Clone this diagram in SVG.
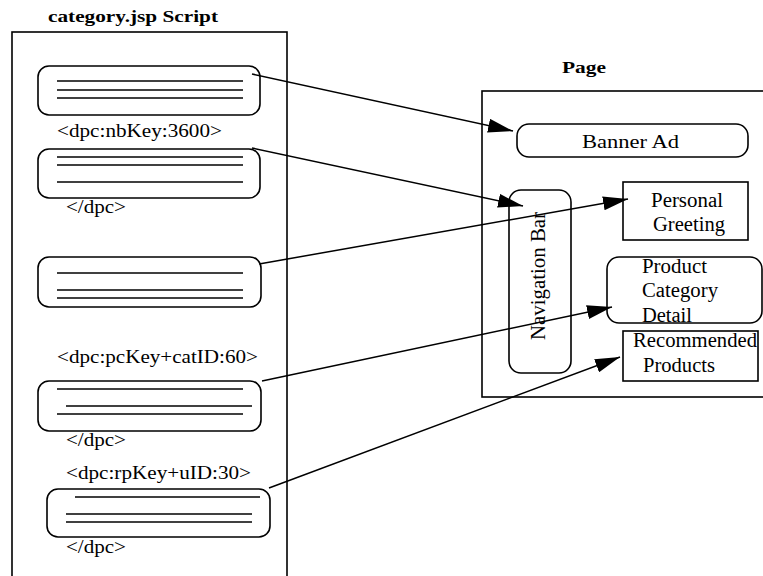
<svg xmlns="http://www.w3.org/2000/svg" width="763" height="576" viewBox="0 0 763 576">
<defs>
<style>
.box{fill:#fff;stroke:#000;stroke-width:1.6}
.frame{fill:none;stroke:#000;stroke-width:1.6}
.ln{stroke:#000;stroke-width:1.5}
.t{font-family:"Liberation Serif","Times New Roman",serif;font-size:18px;fill:#000}
.tb{font-family:"Liberation Serif","Times New Roman",serif;font-size:17px;font-weight:bold;fill:#000}
.tn{font-family:"Liberation Serif","Times New Roman",serif;font-size:20px;fill:#000}
.conn{stroke:#000;stroke-width:1.5;fill:none;marker-end:url(#ah)}
</style>
<marker id="ah" markerUnits="userSpaceOnUse" markerWidth="26" markerHeight="14" refX="25" refY="7" orient="auto">
<path d="M0,0 L25,7 L0,14 z" fill="#000"/>
</marker>
</defs>
<rect width="763" height="576" fill="#fff"/>

<g id="script">
<text class="tb" x="48" y="22" textLength="170" lengthAdjust="spacingAndGlyphs">category.jsp Script</text>
<rect class="frame" x="12" y="32" width="275" height="560"/>
</g>

<g id="block1">
<rect class="box" x="38" y="66" width="222" height="49" rx="11"/>
<line class="ln" x1="57" y1="81" x2="243" y2="81"/>
<line class="ln" x1="57" y1="90" x2="243" y2="90"/>
<line class="ln" x1="57" y1="98" x2="243" y2="98"/>
</g>

<g id="block2">
<text class="t" x="57" y="137" textLength="165" lengthAdjust="spacingAndGlyphs">&lt;dpc:nbKey:3600&gt;</text>
<rect class="box" x="38" y="149" width="222" height="49" rx="11"/>
<line class="ln" x1="57" y1="157" x2="243" y2="157"/>
<line class="ln" x1="57" y1="165" x2="243" y2="165"/>
<line class="ln" x1="57" y1="182" x2="243" y2="182"/>
<text class="t" x="66" y="213" textLength="60" lengthAdjust="spacingAndGlyphs">&lt;/dpc&gt;</text>
</g>

<g id="block3">
<rect class="box" x="38" y="257" width="223" height="50" rx="11"/>
<line class="ln" x1="57" y1="273" x2="243" y2="273"/>
<line class="ln" x1="57" y1="290" x2="243" y2="290"/>
<line class="ln" x1="57" y1="298" x2="243" y2="298"/>
</g>

<g id="block4">
<text class="t" x="57" y="363" textLength="201" lengthAdjust="spacingAndGlyphs">&lt;dpc:pcKey+catID:60&gt;</text>
<rect class="box" x="38" y="381" width="223" height="50" rx="11"/>
<line class="ln" x1="57" y1="389" x2="243" y2="389"/>
<line class="ln" x1="66" y1="406" x2="252" y2="406"/>
<line class="ln" x1="57" y1="414" x2="243" y2="414"/>
<text class="t" x="66" y="446" textLength="60" lengthAdjust="spacingAndGlyphs">&lt;/dpc&gt;</text>
</g>

<g id="block5">
<text class="t" x="66" y="479" textLength="185" lengthAdjust="spacingAndGlyphs">&lt;dpc:rpKey+uID:30&gt;</text>
<rect class="box" x="47" y="489" width="223" height="48" rx="11"/>
<line class="ln" x1="75" y1="497" x2="260" y2="497"/>
<line class="ln" x1="66" y1="514" x2="252" y2="514"/>
<line class="ln" x1="66" y1="522" x2="252" y2="522"/>
<text class="t" x="66" y="553" textLength="60" lengthAdjust="spacingAndGlyphs">&lt;/dpc&gt;</text>
</g>

<g id="page">
<text class="tb" x="562" y="73" textLength="44" lengthAdjust="spacingAndGlyphs">Page</text>
<rect class="frame" x="482" y="91" width="300" height="306"/>
</g>

<g id="banner-ad">
<rect class="box" x="517" y="124" width="231" height="33" rx="12"/>
<text class="t" x="582" y="148" textLength="97" lengthAdjust="spacingAndGlyphs">Banner Ad</text>
</g>

<g id="navigation-bar">
<rect class="box" x="509" y="190" width="62" height="183" rx="12"/>
<text class="tn" transform="translate(545,276) rotate(-90)" text-anchor="middle" textLength="128" lengthAdjust="spacingAndGlyphs">Navigation Bar</text>
</g>

<g id="personal-greeting">
<rect class="box" x="623" y="182" width="125" height="58"/>
<text class="tn" x="651" y="207" textLength="72" lengthAdjust="spacingAndGlyphs">Personal</text>
<text class="tn" x="653" y="231" textLength="72" lengthAdjust="spacingAndGlyphs">Greeting</text>
</g>

<g id="product-category-detail">
<rect class="box" x="607" y="257" width="155" height="66" rx="12"/>
<text class="tn" x="642" y="273" textLength="65" lengthAdjust="spacingAndGlyphs">Product</text>
<text class="tn" x="642" y="297" textLength="76" lengthAdjust="spacingAndGlyphs">Category</text>
<text class="tn" x="642" y="322" textLength="50" lengthAdjust="spacingAndGlyphs">Detail</text>
</g>

<g id="recommended-products">
<rect class="box" x="623" y="331" width="135" height="50"/>
<text class="tn" x="633" y="347" textLength="124" lengthAdjust="spacingAndGlyphs">Recommended</text>
<text class="tn" x="643" y="372" textLength="72" lengthAdjust="spacingAndGlyphs">Products</text>
</g>

<g id="connectors">
<line class="conn" x1="252" y1="74" x2="513" y2="131"/>
<line class="conn" x1="252" y1="148" x2="523" y2="206"/>
<line class="conn" x1="259" y1="264" x2="628" y2="199"/>
<line class="conn" x1="262" y1="381" x2="612" y2="307"/>
<line class="conn" x1="269" y1="488" x2="620" y2="357"/>
</g>
</svg>
